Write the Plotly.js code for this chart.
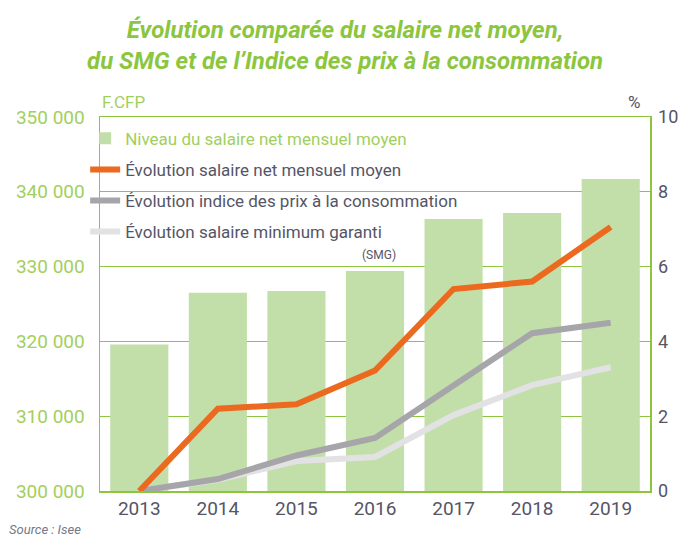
<!DOCTYPE html>
<html>
<head>
<meta charset="utf-8">
<script src="https://cdn.plot.ly/plotly-3.0.1.min.js"></script>
<style>html,body{margin:0;padding:0;background:#fff;}#chart{width:678px;height:539px;}</style>
</head>
<body>
<div id="chart"></div>
<script>
// Data
var years = ['2013', '2014', '2015', '2016', '2017', '2018', '2019'];
var salaireNetMoyen = [319600, 326500, 326750, 329400, 336350, 337150, 341700];     // F.CFP
var evolSalaireNet = [0, 2.2, 2.32, 3.22, 5.4, 5.6, 7.06];                           // %
var evolPrixConso = [0, 0.32, 0.95, 1.42, 2.82, 4.22, 4.5];                          // %
var evolSMG = [0, 0.3, 0.8, 0.91, 2.03, 2.83, 3.31];                                 // %
var leftTickVals = [300000, 310000, 320000, 330000, 340000, 350000];
var leftTickText = ['300 000', '310 000', '320 000', '330 000', '340 000', '350 000'];
var rightTickVals = [0, 2, 4, 6, 8, 10];
var rightTickText = ['0', '2', '4', '6', '8', '10'];

var GREEN = '#8cc63f';
var TXT = '#555566';
var FONT = 'Roboto, "Open Sans", sans-serif';

var traces = [
  {
    type: 'bar', x: years, y: salaireNetMoyen, yaxis: 'y',
    name: '<span style="color:#9fcf5e">Niveau du salaire net mensuel moyen</span>',
    marker: {color: '#c3dfa9', line: {width: 0}},
    legendrank: 1, legendgroup: 'a', hoverinfo: 'skip'
  },
  {
    type: 'scatter', mode: 'lines', x: years, y: evolSMG, yaxis: 'y2',
    name: 'Évolution salaire minimum garanti',
    line: {color: '#e2e2e4', width: 6},
    legendrank: 4, legendgroup: 'd'
  },
  {
    type: 'scatter', mode: 'lines', x: years, y: evolPrixConso, yaxis: 'y2',
    name: 'Évolution indice des prix à la consommation',
    line: {color: '#a6a6aa', width: 6},
    legendrank: 3, legendgroup: 'c'
  },
  {
    type: 'scatter', mode: 'lines', x: years, y: evolSalaireNet, yaxis: 'y2',
    name: 'Évolution salaire net mensuel moyen',
    line: {color: '#eb6a1f', width: 6},
    legendrank: 2, legendgroup: 'b'
  }
];

var layout = {
  width: 678, height: 539,
  margin: {l: 100, r: 28, t: 117, b: 48, pad: 0},
  paper_bgcolor: '#ffffff', plot_bgcolor: '#ffffff',
  font: {family: FONT, color: TXT},
  bargap: 0.26,
  showlegend: true,
  title: {
    text: 'Évolution comparée du salaire net moyen,<br>du SMG et de l’Indice des prix à la consommation',
    font: {family: FONT, size: 24, color: GREEN, weight: 'bold', style: 'italic'},
    x: 0.509, xanchor: 'center', xref: 'container',
    y: 0.93, yanchor: 'top', yref: 'container'
  },
  legend: {
    x: -0.027, xanchor: 'left', y: 0.99, yanchor: 'top',
    bgcolor: 'rgba(0,0,0,0)', borderwidth: 0,
    font: {family: FONT, size: 17, color: TXT},
    tracegroupgap: 6, traceorder: 'grouped', itemclick: false
  },
  xaxis: {
    type: 'category', showgrid: false, zeroline: false,
    showline: true, linecolor: GREEN, linewidth: 1.5, mirror: true,
    ticks: '', tickfont: {family: FONT, size: 19, color: TXT},
    ticklabelstandoff: 0, fixedrange: true
  },
  yaxis: {
    range: [300000, 350000],
    tickvals: leftTickVals, ticktext: leftTickText,
    showgrid: true, gridcolor: GREEN, gridwidth: 1,
    zeroline: false, showline: true, linecolor: GREEN, linewidth: 1.5,
    ticks: '', tickfont: {family: FONT, size: 19, color: '#a3cf5c'},
    ticklabelstandoff: 10, fixedrange: true
  },
  yaxis2: {
    range: [0, 10], overlaying: 'y', side: 'right',
    tickvals: rightTickVals, ticktext: rightTickText,
    showgrid: false, zeroline: false, showline: true, linecolor: GREEN, linewidth: 1.5,
    ticks: '', tickfont: {family: FONT, size: 18, color: TXT},
    ticklabelstandoff: 3, fixedrange: true
  },
  annotations: [
    {xref: 'paper', yref: 'paper', x: 0, y: 1, xanchor: 'left', yanchor: 'bottom', yshift: 3,
     text: 'F.CFP', showarrow: false, font: {family: FONT, size: 17, color: '#9fcf5e'}},
    {xref: 'paper', yref: 'paper', x: 1, y: 1, xanchor: 'right', yanchor: 'bottom', yshift: 3, xshift: -8,
     text: '%', showarrow: false, font: {family: FONT, size: 17, color: TXT}},
    {xref: 'paper', yref: 'paper', x: 0.508, y: 0.632, xanchor: 'center', yanchor: 'middle',
     text: '(SMG)', showarrow: false, font: {family: FONT, size: 12, color: TXT}},
    {xref: 'paper', yref: 'paper', x: -0.17, y: -0.102, xanchor: 'left', yanchor: 'middle',
     text: '<i>Source : Isee</i>', showarrow: false, font: {family: FONT, size: 13, color: '#777788'}}
  ]
};

Plotly.newPlot('chart', traces, layout, {displayModeBar: false, staticPlot: true});
</script>
</body>
</html>
